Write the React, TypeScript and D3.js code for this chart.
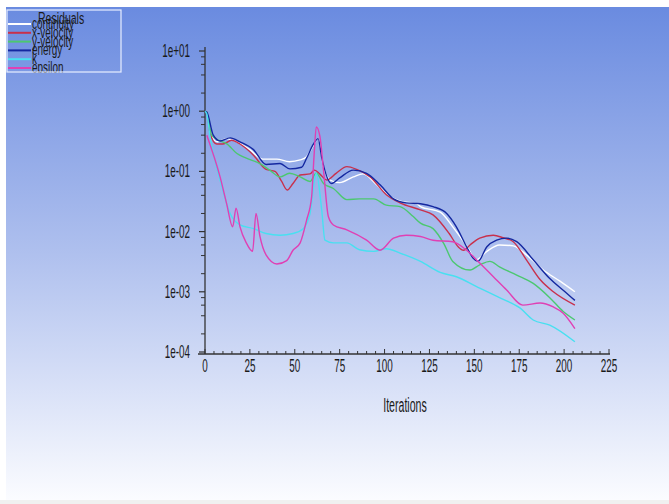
import React from 'react'
import * as d3 from 'd3'

// residual history, [iteration, residual]
const continuity: [number, number][] = [
  [0, 1], [1, 0.97], [3.7, 0.38], [7, 0.31], [12, 0.35], [17.6, 0.31], [25, 0.23], [32, 0.16],
  [40, 0.16], [47, 0.145], [53, 0.155], [56.6, 0.175], [60, 0.26], [63, 0.35], [66, 0.12],
  [69.6, 0.072], [75, 0.065], [82.6, 0.081], [88, 0.091], [95.6, 0.06], [103, 0.038],
  [108.6, 0.032], [118, 0.029], [120, 0.026], [131, 0.021], [138, 0.012], [146, 0.0056],
  [151, 0.0034], [157, 0.0047], [164, 0.006], [171.7, 0.0058], [179, 0.0041], [188.4, 0.0023],
  [197.7, 0.0015], [206, 0.001]
]
const xVelocity: [number, number][] = [
  [0, 1], [1, 0.97], [2.8, 0.43], [6.5, 0.285], [10, 0.285], [14.8, 0.33], [19.5, 0.285],
  [27, 0.186], [34, 0.108], [39, 0.1], [42.7, 0.068], [45.8, 0.049], [49, 0.063], [53, 0.087],
  [58.5, 0.091], [61, 0.105], [64, 0.09], [67.8, 0.072], [73, 0.093], [79, 0.12], [84.5, 0.108],
  [92, 0.081], [101, 0.041], [108.6, 0.03], [120, 0.023], [127, 0.019], [136, 0.0093],
  [141, 0.0056], [144, 0.0049], [147.6, 0.006], [153, 0.0078], [160.6, 0.0087], [166, 0.0079],
  [171.7, 0.0068], [179, 0.0034], [186.6, 0.0016], [194, 0.001], [206, 0.0006]
]
const yVelocity: [number, number][] = [
  [0, 1], [1, 0.97], [3.7, 0.4], [8.4, 0.32], [12, 0.29], [17.6, 0.2], [23, 0.166], [30.6, 0.135],
  [36, 0.105], [41.8, 0.081], [47, 0.093], [53, 0.081], [58.5, 0.068], [62, 0.093], [66, 0.063],
  [71.5, 0.052], [79, 0.034], [86, 0.035], [94, 0.035], [101, 0.0275], [108.6, 0.026],
  [116, 0.0178], [120, 0.0138], [127, 0.0112], [133, 0.0063], [138, 0.0032], [147.6, 0.0023],
  [153, 0.0028], [158.7, 0.0032], [164, 0.0026], [173.6, 0.0019], [182.8, 0.00138],
  [192, 0.0008], [199.5, 0.00047], [206, 0.00034]
]
const energy: [number, number][] = [
  [0, 1], [1, 0.97], [4.6, 0.4], [8.4, 0.32], [14, 0.36], [19.5, 0.31], [27, 0.23], [34, 0.13],
  [41.8, 0.135], [47.3, 0.11], [53.8, 0.117], [56.6, 0.166], [60.3, 0.28], [63, 0.35], [65, 0.17],
  [70.5, 0.063], [75, 0.078], [82.6, 0.105], [90, 0.093], [97.5, 0.06], [105, 0.035], [112, 0.03],
  [120, 0.029], [127, 0.026], [134.6, 0.02], [140, 0.012], [145.7, 0.0056], [149.4, 0.0036],
  [152, 0.0032], [157, 0.0056], [162.4, 0.0072], [168, 0.0078], [173.6, 0.0068], [182.8, 0.0034],
  [192, 0.00166], [200.5, 0.001], [206, 0.00072]
]
const kRes: [number, number][] = [
  [0, 1], [1, 0.9], [2.8, 0.38], [8.4, 0.072], [14, 0.02], [19.5, 0.0129], [27, 0.0112],
  [34, 0.0093], [41.8, 0.0087], [49, 0.0093], [54.7, 0.0112], [58.5, 0.02], [61, 0.072],
  [62, 0.093], [65, 0.023], [66.8, 0.0072], [71.5, 0.0065], [79, 0.0065], [86, 0.005],
  [94, 0.0047], [101, 0.0052], [108.6, 0.0044], [120, 0.0032], [131, 0.0021], [140, 0.00178],
  [151, 0.00123], [164, 0.0008], [175.4, 0.00054], [182.8, 0.00034], [192, 0.00028],
  [206, 0.000148]
]
const epsilon: [number, number][] = [
  [1, 0.4], [8.4, 0.081], [12, 0.0295], [15.4, 0.012], [17.3, 0.0245], [19.5, 0.012], [23, 0.0065],
  [26.5, 0.0047], [28.4, 0.02], [30.6, 0.0083], [34, 0.0041], [40, 0.0029], [45.5, 0.0033],
  [49, 0.0049], [53, 0.0065], [56.6, 0.0155], [59.4, 0.038], [60.7, 0.174], [62, 0.55], [64, 0.38],
  [66, 0.105], [68.7, 0.0178], [71.5, 0.0129], [79, 0.0107], [90, 0.0072], [97.5, 0.0049],
  [105, 0.0078], [112, 0.0087], [120, 0.0083], [127, 0.0072], [138, 0.0068], [145.7, 0.0049],
  [153, 0.003], [160.6, 0.00178], [168, 0.00107], [177, 0.0006], [186.6, 0.00065], [194, 0.00056],
  [199.5, 0.00044], [206, 0.000245]
]

const seriesNames = ['continuity', 'x-velocity', 'y-velocity', 'energy', 'k', 'epsilon']
const seriesData = [continuity, xVelocity, yVelocity, energy, kRes, epsilon]
const seriesColors = ['#ffffff', '#c8304c', '#4cc870', '#1428a0', '#48e0f0', '#e040b4']

const xTicks = [0, 25, 50, 75, 100, 125, 150, 175, 200, 225]
const yTicks = [1e1, 1e0, 1e-1, 1e-2, 1e-3, 1e-4]
const yTickLabels = ['1e+01', '1e+00', '1e-01', '1e-02', '1e-03', '1e-04']

const W = 669
const H = 504
const font = "'Liberation Sans', Arial, sans-serif"

export default function App() {
  const x = d3.scaleLinear().domain([0, 225]).range([205, 609])
  const y = d3.scaleLog().domain([1e-4, 10]).range([352, 51])

  const line = d3.line<[number, number]>()
    .x(d => x(d[0]))
    .y(d => y(d[1]))
    .curve(d3.curveMonotoneX)

  const xMinor = d3.range(0, 226, 5)
  const yMinor: number[] = []
  for (let e = -4; e < 1; e++) {
    ;[2, 4, 6, 8].forEach(m => yMinor.push(m * Math.pow(10, e)))
  }

  return (
    <svg width={W} height={H} style={{ position: 'fixed', left: 0, top: 0, background: '#fff' }}>
      <defs>
        <linearGradient id="bg" x1="0" y1="0" x2="0" y2="1">
          <stop offset="0" stopColor="#6a8be0" />
          <stop offset="0.5" stopColor="#afc0ee" />
          <stop offset="1" stopColor="#fbfcff" />
        </linearGradient>
        <clipPath id="legclip">
          <rect x={7} y={10} width={115} height={63} />
        </clipPath>
      </defs>
      <rect x={6} y={7} width={W - 6} height={493} fill="url(#bg)" />
      <rect x={0} y={500} width={W} height={4} fill="#f0f0f0" />

      {/* axes */}
      <line x1={205} x2={205} y1={47} y2={354} stroke="#333" strokeWidth={1.3} />
      <line x1={198} x2={610} y1={354} y2={354} stroke="#333" strokeWidth={1.3} />
      {xMinor.map(t => (
        <line key={'xm' + t} x1={x(t)} x2={x(t)} y1={354} y2={t % 25 === 0 ? 349 : 351}
          stroke="#333" strokeWidth={1} />
      ))}
      {yTicks.map(t => (
        <line key={'yt' + t} x1={199} x2={205} y1={y(t)} y2={y(t)} stroke="#333" strokeWidth={1.2} />
      ))}
      {yMinor.map(t => (
        <line key={'ym' + t} x1={201} x2={205} y1={y(t)} y2={y(t)} stroke="#333" strokeWidth={1} />
      ))}
      {xTicks.map(t => (
        <text key={'xl' + t} transform={`translate(${x(t)},372) scale(0.55,1)`} textAnchor="middle"
          fontFamily={font} fontSize={18} fill="#1a1a1a">{t}</text>
      ))}
      {yTicks.map((t, i) => (
        <text key={'yl' + t} transform={`translate(190,${y(t) + 6}) scale(0.55,1)`} textAnchor="end"
          fontFamily={font} fontSize={18} fill="#1a1a1a">{yTickLabels[i]}</text>
      ))}
      <text transform="translate(405,412) scale(0.53,1)" textAnchor="middle" fontFamily={font}
        fontSize={20} fill="#1a1a1a">Iterations</text>

      {/* residual curves */}
      {seriesData.map((d, i) => (
        <path key={seriesNames[i]} d={line(d) || ''} fill="none" stroke={seriesColors[i]}
          strokeWidth={1.4} />
      ))}

      {/* legend */}
      <g clipPath="url(#legclip)">
        <text transform="translate(38,24) scale(0.62,1)" fontFamily={font} fontSize={17}
          fill="#1a1a1a">Residuals</text>
        {seriesNames.map((n, i) => {
          const ly = 24 + i * 8.8
          return (
            <g key={'lg' + n}>
              <line x1={8} x2={31} y1={ly} y2={ly} stroke={seriesColors[i]} strokeWidth={2} />
              <text transform={`translate(32,${ly + 5}) scale(0.62,1)`} fontFamily={font}
                fontSize={16} fill="#1a1a1a">{n}</text>
            </g>
          )
        })}
      </g>
      <rect x={7} y={10} width={114} height={62} fill="none" stroke="#e8eeff" strokeWidth={1.2} />
    </svg>
  )
}
